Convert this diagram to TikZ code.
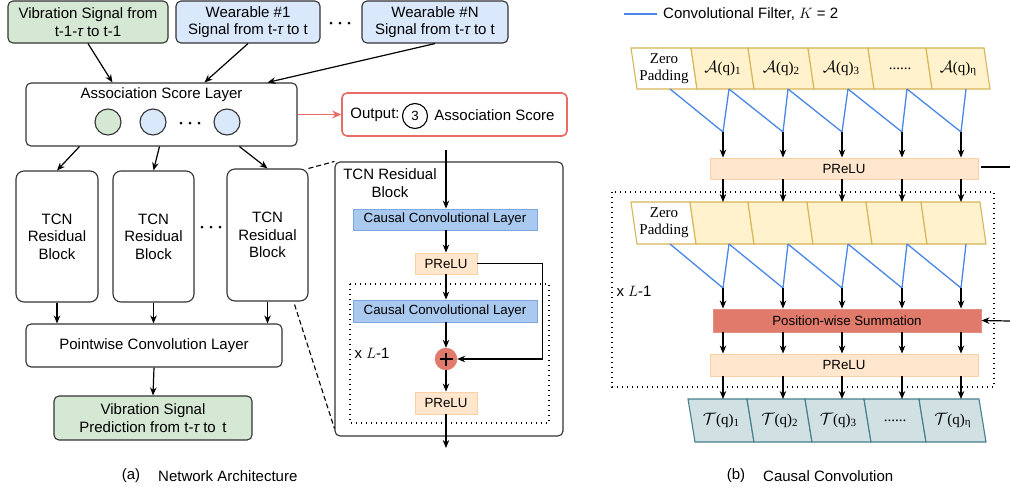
\documentclass[tikz,border=0pt]{standalone}
\usepackage{fix-cm}
\usepackage{fontspec}
\setmainfont{Liberation Sans}
\newfontfamily\seriff{Liberation Serif}
\usetikzlibrary{arrows.meta,calc}
\definecolor{gfill}{HTML}{D5E8D4}
\definecolor{bfill}{HTML}{DAE8FC}
\definecolor{edge}{HTML}{333333}
\definecolor{redo}{HTML}{EA6B66}
\definecolor{ccfill}{HTML}{A9C9EE}
\definecolor{ccdraw}{HTML}{7EA6E0}
\definecolor{prfill}{HTML}{FFE6CC}
\definecolor{prdraw}{HTML}{F8D1A6}
\definecolor{sumfill}{HTML}{E07B6B}
\definecolor{cellY}{HTML}{FFF2CC}
\definecolor{cellYd}{HTML}{D6B656}
\definecolor{cellT}{HTML}{D0E0E3}
\definecolor{cellTd}{HTML}{44808C}
\definecolor{filt}{HTML}{4A86E8}
\newcommand\mycellA[1]{{\fontsize{16.5}{17}\selectfont$\mathcal{A}$}(q)\raisebox{-1.5pt}{\fontsize{11}{11}\selectfont #1}}
\newcommand\mycellT[1]{{\fontsize{16.5}{17}\selectfont$\mathcal{T}$}(q)\raisebox{-1.5pt}{\fontsize{11}{11}\selectfont #1}}
\tikzset{
 f15/.style={font=\fontsize{15}{17.5}\selectfont},
 f13/.style={font=\fontsize{13.3}{15}\selectfont},
 rbox/.style={draw=edge, line width=1.1pt, rounded corners=5pt, align=center, inner sep=0pt, f15},
 arr/.style={-{Stealth[length=8pt,width=6.5pt]}, line width=1.2pt, black},
 ln/.style={line width=1.2pt, black},
 dsh/.style={line width=1.1pt, dash pattern=on 5pt off 3pt},
 dotbox/.style={line width=1.4pt, dash pattern=on 1.4pt off 3.6pt},
 ccl/.style={draw=ccdraw, fill=ccfill, line width=0.9pt, minimum width=184pt, minimum height=21pt, f13, inner sep=0pt},
 prl/.style={draw=prdraw, fill=prfill, line width=0.9pt, f13, inner sep=0pt},
 cellA/.style={draw=cellYd, line width=1.1pt},
 cellB/.style={draw=cellTd, line width=1.1pt, fill=cellT},
 filtl/.style={draw=filt, line width=1.3pt},
 ctext/.style={font=\seriff\fontsize{15}{17}\selectfont, inner sep=0pt, align=center},
 circ/.style={circle, draw=edge, line width=1.1pt, minimum size=26pt, inner sep=0pt},
 dotr/.style={black},
}
\begin{document}
\begin{tikzpicture}[x=1pt,y=-1pt]
\useasboundingbox (0,0) rectangle (1010,491);

% ---------- (a) network architecture ----------
\node[rbox, fill=gfill, minimum width=160pt, minimum height=42pt] (vib) at (88,22) {Vibration Signal from\\t-1-{\itshape τ} to t-1};
\node[rbox, fill=bfill, minimum width=144pt, minimum height=42pt] (w1) at (248,22) {Wearable \#1\\Signal from t-{\itshape τ} to t};
\node[rbox, fill=bfill, minimum width=146pt, minimum height=42pt] (wN) at (435,22) {Wearable \#N\\Signal from t-{\itshape τ} to t};
\foreach \x in {331,340,349} \fill[dotr] (\x,23) circle (1.5pt);

\node[rbox, minimum width=271pt, minimum height=63pt] (assoc) at (161.5,114.5) {};
\node[f15, inner sep=0pt] (assoct) at (161.5,95) {Association Score Layer};
\node[circ, fill=gfill] (c1) at (108,122) {};
\node[circ, fill=bfill] (c2) at (153,122) {};
\foreach \x in {181,190,199} \fill[dotr] (\x,123) circle (1.5pt);
\node[circ, fill=bfill] (c3) at (227,122) {};

\draw[arr] (vib.south) -- ($(assoc.north west)+(87,0)$);
\draw[arr] (w1.south) -- ($(assoc.north west)+(179,0)$);
\draw[arr] (wN.south) -- ($(assoc.north west)+(242,0)$);

\node[draw=redo, line width=1.6pt, rounded corners=5pt, minimum width=225pt, minimum height=43pt, inner sep=0pt] (outb) at (454.5,114.5) {};
\node[f15, inner sep=0pt] (outl) at (375,115) {Output:};
\node[circle, draw=black, line width=1.1pt, minimum size=25pt, inner sep=0pt, f13] (three) at (415,116) {3};
\node[f15, inner sep=0pt] (outs) at (494.5,115) {Association Score};
\draw[-{Stealth[length=9pt,width=8pt]}, line width=1.8pt, redo] (assoc.east) -- (outb.west);

\node[rbox, rounded corners=8pt, minimum width=82pt, minimum height=131pt] (b1) at (57,236.5) {TCN\\Residual\\Block};
\node[rbox, rounded corners=8pt, minimum width=81pt, minimum height=131pt] (b2) at (153.5,236.5) {TCN\\Residual\\Block};
\node[rbox, rounded corners=8pt, minimum width=81pt, minimum height=132pt] (b3) at (267.5,235) {TCN\\Residual\\Block};
\foreach \x in {202,211,220} \fill[dotr] (\x,227) circle (1.5pt);

\draw[arr] ($(assoc.south west)+(54,0)$) -- (b1.north);
\draw[arr] ($(assoc.south west)+(134,0)$) -- (b2.north);
\draw[arr] ($(assoc.south west)+(214,0)$) -- (b3.north);

\node[rbox, minimum width=256pt, minimum height=43pt] (pw) at (154,345.5) {Pointwise Convolution Layer};
\node[rbox, fill=gfill, minimum width=198pt, minimum height=44pt] (fin) at (153,418) {Vibration Signal\\Prediction from t-{\itshape τ} to\, t};

\draw[arr] (b1.south) -- (b1.south |- pw.north);
\draw[arr] (b2.south) -- (b2.south |- pw.north);
\draw[arr] (b3.south) -- (b3.south |- pw.north);
\draw[arr] (pw.south) -- (fin.north);

% detail box
\node[rbox, minimum width=228pt, minimum height=274pt] (det) at (449,299) {};
\node[f15, inner sep=0pt, align=center] (dett) at (390,183) {TCN Residual\\Block};
\draw[dsh] (b3.north east) -- (det.north west);
\draw[dsh] ($(b3.south east)+(-14,3)$) -- ($(det.south west)+(0,-8)$);

\coordinate (inTop) at (446,150);
\coordinate (outBot) at (446,448);
\node[ccl] (cc1) at (445,219.5) {Causal Convolutional Layer};
\node[prl, minimum width=62pt, minimum height=21pt] (pr1) at (446,263.5) {PReLU};
\draw[dotbox] (350,284) rectangle (549,423);
\node[ccl, minimum height=22pt] (cc2) at (445,311) {Causal Convolutional Layer};
\node[circle, fill=sumfill, draw=sumfill, minimum size=22pt, inner sep=0pt] (plus) at (446,359) {};
\draw[line width=2.4pt] ($(plus.center)+(-6.5,0)$) -- ($(plus.center)+(6.5,0)$);
\draw[line width=2.4pt] ($(plus.center)+(0,-6.5)$) -- ($(plus.center)+(0,6.5)$);
\node[prl, minimum width=62pt, minimum height=22pt] (pr2) at (446,403) {PReLU};
\node[f15, inner sep=0pt] (xl1) at (372,353) {x $L$-1};

\draw[arr] (inTop) -- (inTop |- cc1.north);
\draw[arr] (cc1.south -| inTop) -- (pr1.north -| inTop);
\draw[arr] (pr1.south -| inTop) -- (cc2.north -| inTop);
\draw[arr] (cc2.south -| inTop) -- (plus.north);
\draw[arr] (plus.south) -- (pr2.north);
\draw[arr] (pr2.south) -- (outBot);
\draw[arr] (pr1.east) -- ++(65,0) |- (plus.east);

\node[f15, inner sep=0pt] (capa) at (131,476) {(a)};
\node[f15, inner sep=0pt, anchor=west] (capa2) at (158,476) {Network Architecture};

% ---------- (b) causal convolution ----------
\coordinate (leg1) at (624,14);
\coordinate (leg2) at (657,14);
\draw[filtl] (leg1) -- (leg2);
\node[f15, inner sep=0pt, anchor=west] (legt) at (663,14) {Convolutional Filter, $K$ = 2};

% row 1
\foreach \a/\b/\fc in {631/691/white,691/748/cellY,748/808/cellY,808/868/cellY,868/926/cellY,926/984/cellY}
  \draw[cellA, fill=\fc] (\a,48) -- (\b,48) -- (\b+6,89) -- (\a+6,89) -- cycle;
\node[ctext] (z1) at (664,68.5) {Zero\\Padding};
\node[ctext] (a1) at (722.5,68.5) {\mycellA{1}};
\node[ctext] (a2) at (781,68.5) {\mycellA{2}};
\node[ctext] (a3) at (841,68.5) {\mycellA{3}};
\node[ctext] (a4) at (900,68.5) {......};
\node[ctext] (a5) at (958,68.5) {\mycellA{η}};

% row 2
\foreach \a/\b/\fc in {631/690/white,690/748/cellY,748/807/cellY,807/866/cellY,866/921/cellY,921/980/cellY}
  \draw[cellA, fill=\fc] (\a,202) -- (\b,202) -- (\b+6,244) -- (\a+6,244) -- cycle;
\node[ctext] (z2) at (664,223) {Zero\\Padding};

% output row
\foreach \a/\b in {688/747,747/805,805/864,864/919,919/979}
  \draw[cellB] (\a,399) -- (\b,399) -- (\b+7,442) -- (\a+7,442) -- cycle;
\node[ctext] (o1) at (721,420.5) {\mycellT{1}};
\node[ctext] (o2) at (779.5,420.5) {\mycellT{2}};
\node[ctext] (o3) at (838,420.5) {\mycellT{3}};
\node[ctext] (o4) at (895,420.5) {......};
\node[ctext] (o5) at (952.5,420.5) {\mycellT{η}};

% bars
\node[prl, minimum width=268pt, minimum height=21pt] (prA) at (844,168.5) {PReLU};
\node[draw=sumfill!85!white, fill=sumfill, line width=0.9pt, minimum width=268pt, minimum height=23pt, inner sep=0pt, f13] (sum) at (847,320.5) {Position-wise Summation};
\node[prl, minimum width=268pt, minimum height=22pt] (prB) at (844,365) {PReLU};
\draw[dotbox] (612,192) rectangle (994,387);
\node[f15, inner sep=0pt] (xl2) at (634,291) {x $L$-1};

% filter lines
\foreach \i/\x in {0/670,1/729,2/788,3/848,4/907,5/966} {
  \coordinate (s1-\i) at (\x,89);
  \coordinate (s2-\i) at (\x,244);
}
\foreach \j/\x in {1/723,2/783,3/842,4/902,5/961} {
  \coordinate (t1-\j) at (\x,132);
  \coordinate (t2-\j) at (\x,288);
  \coordinate (r1-\j) at (\x,202);
  \coordinate (r3-\j) at (\x,399);
}
\foreach \j [evaluate=\j as \k using int(\j-1)] in {1,...,5} {
  \draw[filtl] (s1-\k) -- (t1-\j) -- (s1-\j);
  \draw[filtl] (s2-\k) -- (t2-\j) -- (s2-\j);
  \draw[arr] (t1-\j) -- (t1-\j |- prA.north);
  \draw[arr] (t1-\j |- prA.south) -- (r1-\j);
  \draw[arr] (t2-\j) -- (t2-\j |- sum.north);
  \draw[arr] (t2-\j |- sum.south) -- (t2-\j |- prB.north);
  \draw[arr] (t2-\j |- prB.south) -- (r3-\j);
}
\coordinate (rA) at (1010,167);
\coordinate (rB) at (1010,321);
\draw[ln] ($(prA.east)+(3,-1.5)$) -- (rA);
\draw[arr] (rB) -- (sum.east);

\node[f15, inner sep=0pt] (capb) at (736,476) {(b)};
\node[f15, inner sep=0pt, anchor=west] (capb2) at (763,476) {Causal Convolution};
\end{tikzpicture}
\end{document}
